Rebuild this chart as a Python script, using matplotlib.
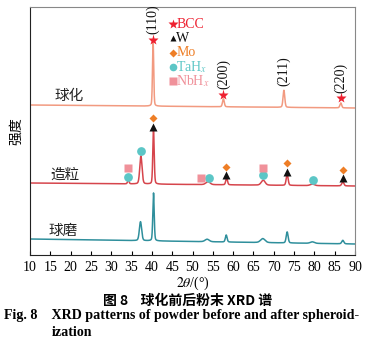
import numpy as np
import matplotlib
matplotlib.use("Agg")
import matplotlib.pyplot as plt

plt.rcParams['font.family'] = ['Liberation Serif', 'Noto Sans CJK SC']
plt.rcParams['mathtext.fontset'] = 'stix'

# Diffraction peaks of each powder: (2theta, height, FWHM)
spheroidized_base = [150.0, 147.0]
spheroidized_peaks = [(40.3, 65, 0.35), (57.6, 8, 0.5), (72.5, 17, 0.5), (86.5, 5, 0.5)]

granulated_base = [72.0, 69.0]
granulated_peaks = [(34.2, 3.5, 0.45), (37.3, 28, 0.65), (40.4, 55, 0.4), (53.8, 3, 1.2),
                    (58.4, 7, 0.5), (67.4, 5, 1.1), (73.3, 11, 0.55), (79.5, 1.5, 1.2),
                    (87.0, 4, 0.6)]

milled_base = [16.0, 11.0]
milled_peaks = [(37.2, 19, 0.65), (40.4, 48, 0.4), (53.6, 2.5, 1.2), (58.3, 7, 0.5),
                (67.3, 4, 1.3), (73.3, 11, 0.55), (79.5, 1.5, 1.2), (87.0, 3.5, 0.6)]

pattern_labels = ['球化', '造粒', '球磨']
label_pos = [(16.0, 159), (15.0, 80), (14.5, 24)]

# Marker positions: (2theta, height)
bcc_marks = [(40.3, 215), (57.6, 160), (86.5, 157)]
w_marks = [(40.3, 128), (58.3, 80), (73.3, 83), (87.0, 77)]
mo_marks = [(40.3, 137), (58.3, 88), (73.3, 92), (87.0, 85)]
tah_marks = [(34.2, 78), (37.3, 104), (54.1, 77), (67.3, 80), (79.6, 75)]
nbh_marks = [(34.0, 87), (52.1, 77), (67.4, 87)]

hkl_labels = ['(110)', '(200)', '(211)', '(220)']
hkl_pos = [(40.3, 221), (57.6, 166), (72.5, 169), (86.5, 162)]

x_ticks = list(range(10, 95, 5))

c_top = '#F29A80'
c_mid = '#D6454C'
c_bot = '#2F8F9C'
c_bcc = '#EE2030'
c_w = '#111111'
c_mo = '#EE7E26'
c_tah = '#5CC6C6'
c_nbh = '#F0919A'


def profile(x, base, peaks, eta=0.25):
    y = np.linspace(base[0], base[1], x.size)
    for pos, h, fw in peaks:
        d = (x - pos) / (fw / 2)
        gauss = np.exp(-np.log(2) * d ** 2)
        lor = 1 / (1 + d ** 2)
        y = y + h * ((1 - eta) * gauss + eta * lor)
    return y


x = np.linspace(10, 90, 3000)

fig = plt.figure(figsize=(3.76, 3.49), dpi=100)
ax = fig.add_axes([30 / 376, 94 / 349, 325 / 376, 248 / 349])

ax.plot(x, profile(x, spheroidized_base, spheroidized_peaks), color=c_top, lw=1.1)
ax.plot(x, profile(x, granulated_base, granulated_peaks), color=c_mid, lw=1.1)
ax.plot(x, profile(x, milled_base, milled_peaks), color=c_bot, lw=1.1)

for (px, py), t in zip(label_pos, pattern_labels):
    ax.text(px, py, t, fontsize=10.5, family='Noto Sans CJK SC', color='#222222',
            ha='left', va='center')

for m, c, mk, s in [(bcc_marks, c_bcc, '*', 8), (w_marks, c_w, '^', 5.5),
                    (mo_marks, c_mo, 'D', 4.2), (tah_marks, c_tah, 'o', 6.3),
                    (nbh_marks, c_nbh, 's', 5.8)]:
    ax.plot([p[0] for p in m], [p[1] for p in m], ls='none', marker=mk, color=c,
            ms=s, mec='none')

for (px, py), t in zip(hkl_pos, hkl_labels):
    ax.text(px, py, t, rotation=90, fontsize=10, ha='center', va='bottom', color='#111111')

# Legend drawn as marker + coloured text
leg_items = [('*', c_bcc, 'BCC', 7), ('^', c_w, 'W', 5), ('D', c_mo, 'Mo', 4),
             ('o', c_tah, r'TaH$_{x}$', 5.5), ('s', c_nbh, r'NbH$_{x}$', 5.5)]
for i, (mk, c, t, s) in enumerate(leg_items):
    yy = 231 - i * 14.3
    ax.plot([45.2], [yy], ls='none', marker=mk, color=c, ms=s, mec='none')
    ax.text(46.0, yy, t, color=c, fontsize=10, ha='left', va='center')

ax.set_xlim(10, 90)
ax.set_ylim(0, 248)
ax.set_xticks(x_ticks)
ax.set_xticklabels([str(v) for v in x_ticks], fontsize=10)
ax.tick_params(axis='x', direction='in', length=3, width=0.8, pad=4)
ax.set_yticks([])
for s in ['top', 'right']:
    ax.spines[s].set_color('#888888')
for s in ['left', 'bottom']:
    ax.spines[s].set_color('#222222')

ax.set_xlabel(r'$2\theta$/(°)', fontsize=10, labelpad=1)
ax.set_ylabel('强度', family='Noto Sans CJK SC', fontsize=10, labelpad=5)

fig.text(0.5, 1 - 301 / 349, '图 8    球化前后粉末 XRD 谱', ha='center', va='center',
         fontsize=10, fontweight='bold', family=['Noto Sans CJK SC'])
fig.text(4 / 376, 1 - 316 / 349, 'Fig. 8    XRD patterns of powder before and after spheroid-',
         ha='left', va='center', fontsize=10.1, fontweight='bold')
fig.text(52 / 376, 1 - 332 / 349, 'ization', ha='left', va='center', fontsize=10.1,
         fontweight='bold')

fig.savefig('out.png', dpi=100)
